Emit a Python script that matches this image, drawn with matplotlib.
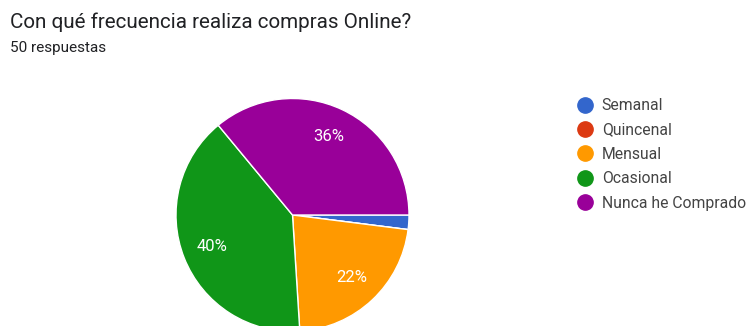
import matplotlib.pyplot as plt
from matplotlib.lines import Line2D

# respuestas por categoria (50 en total)
categorias = ['Semanal', 'Quincenal', 'Mensual', 'Ocasional', 'Nunca he Comprado']
respuestas = [1, 0, 11, 20, 18]
colores = ['#3366cc', '#dc3912', '#ff9900', '#109618', '#990099']
total = sum(respuestas)

plt.rcParams['font.family'] = ['Roboto', 'DejaVu Sans']

W, H = 747, 326
fig = plt.figure(figsize=(W / 100, H / 100), dpi=100)
fig.patch.set_facecolor('white')

# pie box in pixels: center (292.5, 215 from top), radius 116.5
cx, cy, r = 292.5, H - 215, 116.5
ax = fig.add_axes([(cx - r) / W, (cy - r) / H, 2 * r / W, 2 * r / H])


def etiqueta(p):
    return f'{p:.0f}%' if p >= 5 else ''


wedges, textos, autotextos = ax.pie(
    respuestas, colors=colores, startangle=0, counterclock=False,
    autopct=etiqueta, pctdistance=0.74,
    wedgeprops=dict(edgecolor='white', linewidth=1),
    textprops=dict(color='white', fontsize=12))
ax.set_xlim(-1, 1)
ax.set_ylim(-1, 1)
ax.set_aspect('auto')
for w in wedges:
    w.set_clip_on(False)

fig.text(10 / W, 1 - 22 / H, 'Con qué frecuencia realiza compras Online?',
         fontsize=14.9, color='#202124', va='center', ha='left')
fig.text(10 / W, 1 - 48 / H, f'{total} respuestas',
         fontsize=11, color='#202124', va='center', ha='left')

handles = [Line2D([], [], marker='o', linestyle='none', markersize=11,
                  markerfacecolor=c, markeredgecolor=c) for c in colores]
fig.legend(handles, categorias, loc='upper left',
           bbox_to_anchor=(575 / W, 1 - 98 / H), frameon=False,
           fontsize=11.3, labelcolor='#444444', handletextpad=0.45,
           labelspacing=0.6, handlelength=1.25, borderpad=0,
           borderaxespad=0)

fig.savefig('out.png', dpi=100)
